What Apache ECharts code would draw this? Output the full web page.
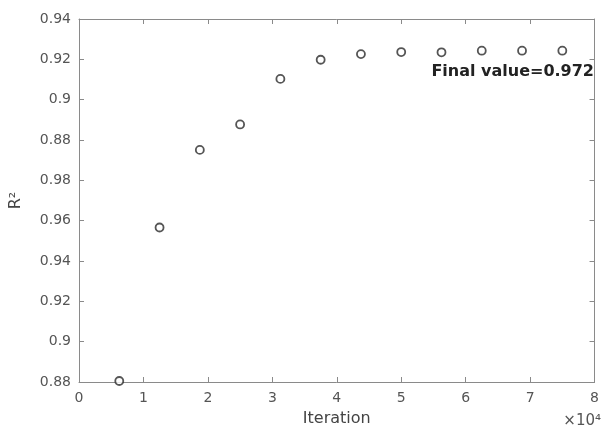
<!DOCTYPE html>
<html>
<head>
<meta charset="utf-8">
<script src="https://cdn.jsdelivr.net/npm/echarts@6/dist/echarts.min.js"></script>
<style>
  html, body { margin: 0; padding: 0; background: #fff; }
  #chart { width: 602px; height: 432px; }
</style>
</head>
<body>
<div id="chart"></div>
<script>
// Iterations at which R^2 was recorded
const iterations = [6250, 12500, 18750, 25000, 31250, 37500, 43750, 50000, 56250, 62500, 68750, 75000];
// Recorded R^2 values (on the linear scale of the y axis)
const r2Values = [0.8805, 0.9566, 0.9951, 1.0077, 1.0303, 1.0398, 1.0426, 1.0436, 1.0435, 1.0443, 1.0443, 1.0443];
// Tick labels printed along the y axis, bottom to top
const yTickLabels = ['0.88', '0.9', '0.92', '0.94', '0.96', '0.98', '0.88', '0.9', '0.92', '0.94'];
// Tick labels along the x axis (in units of 10^4)
const xTickLabels = ['0', '1', '2', '3', '4', '5', '6', '7', '8'];
const annotationText = 'Final value=0.972';

const Y_MIN = 0.88, Y_STEP = 0.02, Y_MAX = 1.06;
const X_MIN = 0, X_STEP = 10000, X_MAX = 80000;

const axisColor = '#8a8a8a';
const labelColor = '#555';
const font = 'DejaVu Sans';

const chart = echarts.init(document.getElementById('chart'));

const yLabel = v => {
  const i = Math.round((v - Y_MIN) / Y_STEP);
  return yTickLabels[i] !== undefined ? yTickLabels[i] : '';
};
const xLabel = v => {
  const i = Math.round((v - X_MIN) / X_STEP);
  return xTickLabels[i] !== undefined ? xTickLabels[i] : '';
};

const baseX = {
  type: 'value', min: X_MIN, max: X_MAX, interval: X_STEP,
  splitLine: { show: false },
  axisLine: { show: true, onZero: false, lineStyle: { color: axisColor, width: 1 } },
  axisTick: { show: true, inside: true, length: 5, lineStyle: { color: axisColor } }
};
const baseY = {
  type: 'value', min: Y_MIN, max: Y_MAX, interval: Y_STEP,
  splitLine: { show: false },
  axisLine: { show: true, onZero: false, lineStyle: { color: axisColor, width: 1 } },
  axisTick: { show: true, inside: true, length: 5, lineStyle: { color: axisColor } }
};

chart.setOption({
  animation: false,
  backgroundColor: '#fff',
  grid: { left: 79, right: 4, top: 19, bottom: 47, containLabel: false },
  xAxis: [
    Object.assign({}, baseX, {
      position: 'bottom',
      name: 'Iteration', nameLocation: 'middle', nameGap: 29,
      nameTextStyle: { color: '#444', fontSize: 16, fontFamily: font },
      axisLabel: { formatter: xLabel, color: labelColor, fontSize: 14, fontFamily: font, margin: 9 }
    }),
    Object.assign({}, baseX, { position: 'top', axisLabel: { show: false } })
  ],
  yAxis: [
    Object.assign({}, baseY, {
      position: 'left',
      name: 'R²', nameLocation: 'middle', nameGap: 55, nameRotate: 90,
      nameTextStyle: { color: '#444', fontSize: 16, fontFamily: font },
      axisLabel: { formatter: yLabel, color: labelColor, fontSize: 14, fontFamily: font, margin: 8 }
    }),
    Object.assign({}, baseY, { position: 'right', axisLabel: { show: false } })
  ],
  series: [{
    type: 'scatter',
    xAxisIndex: 0, yAxisIndex: 0,
    data: iterations.map((x, i) => [x, r2Values[i]]),
    symbol: 'circle',
    symbolSize: 8,
    itemStyle: { color: '#fff', borderColor: '#2a2a2a', borderWidth: 1.8 }
  }],
  graphic: [
    {
      type: 'text', right: 8, top: 64,
      style: { text: annotationText, fill: '#222', font: 'bold 16px "DejaVu Sans"' }
    },
    {
      type: 'text', right: 1, top: 414,
      style: { text: '×10⁴', fill: '#555', font: '15px "DejaVu Sans"' }
    }
  ]
});
</script>
</body>
</html>
